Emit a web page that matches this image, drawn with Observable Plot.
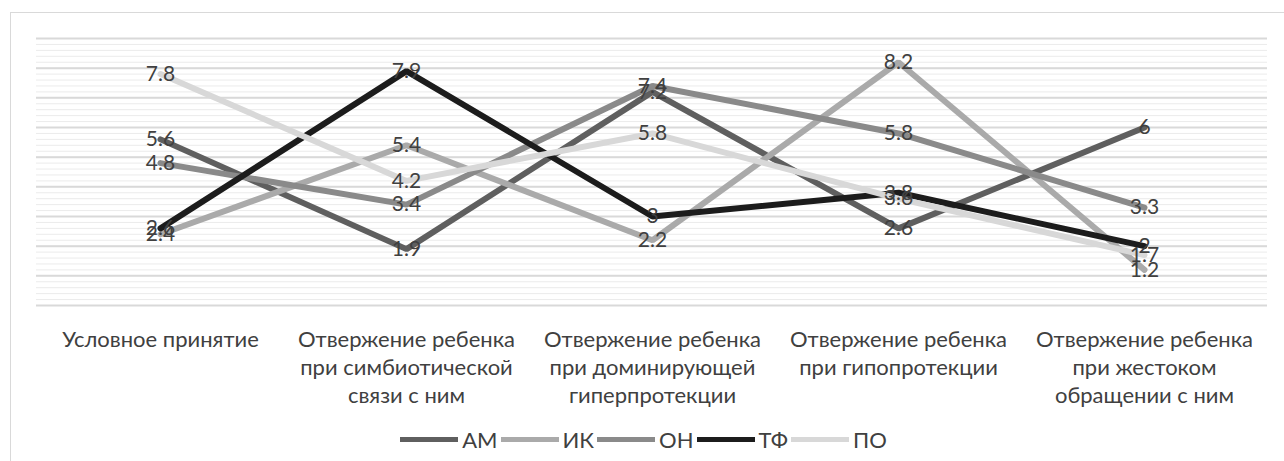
<!DOCTYPE html>
<html>
<head>
<meta charset="utf-8">
<script src="https://cdn.jsdelivr.net/npm/d3@7"></script>
<script src="https://cdn.jsdelivr.net/npm/@observablehq/plot@0.6"></script>
<style>
  html, body { margin: 0; padding: 0; background: #fff; }
  body { width: 1284px; height: 461px; position: relative; overflow: hidden; font-family: Lato, "Noto Sans", sans-serif; }
  #frame { position: absolute; left: 10px; top: 12px; width: 1300px; height: 470px; border: 1px solid #d9d9d9; box-sizing: border-box; }
  #chart { position: absolute; left: 0; top: 0; }
  #legend { position: absolute; left: 0; top: 426px; width: 1284px; height: 26px; display: flex; justify-content: center; align-items: center; font-size: 22px; color: #404040; }
  #legend .item { display: flex; align-items: center; }
  #legend .sw { display: inline-block; width: 58px; height: 5px; margin: 0 4px 0 3px; }
</style>
</head>
<body>
<div id="frame"></div>
<div id="chart"></div>
<div id="legend"></div>
<script>
// Categories of parental attitude (x axis)
const categories = [
  "Условное принятие",
  "Отвержение ребенка при симбиотической связи с ним",
  "Отвержение ребенка при доминирующей гиперпротекции",
  "Отвержение ребенка при гипопротекции",
  "Отвержение ребенка при жестоком обращении с ним"
];
const tickLabels = [
  "Условное принятие",
  "Отвержение ребенка\nпри симбиотической\nсвязи с ним",
  "Отвержение ребенка\nпри доминирующей\nгиперпротекции",
  "Отвержение ребенка\nпри гипопротекции",
  "Отвержение ребенка\nпри жестоком\nобращении с ним"
];

// Series
const seriesNames = ["АМ", "ИК", "ОН", "ТФ", "ПО"];
const valuesAM = [5.6, 1.9, 7.2, 2.6, 6];
const valuesIK = [2.4, 5.4, 2.2, 8.2, 1.2];
const valuesON = [4.8, 3.4, 7.4, 5.8, 3.3];
const valuesTF = [2.6, 7.9, 3, 3.8, 2];
const valuesPO = [7.8, 4.2, 5.8, 3.6, 1.7];
const seriesValues = [valuesAM, valuesIK, valuesON, valuesTF, valuesPO];

const seriesColors = ["#5f5f5f", "#aaaaaa", "#8a8a8a", "#1c1c1c", "#d8d8d8"];
const seriesWidths = [6, 6, 6, 6, 6];

// Long table built from the arrays
const rows = seriesNames.flatMap((s, i) =>
  categories.map((c, j) => ({series: s, category: c, value: seriesValues[i][j]}))
);

const minorTicks = d3.range(0, 9.001, 0.2).map(v => +v.toFixed(1));
const majorTicks = d3.range(0, 10, 1);

const chart = Plot.plot({
  width: 1284,
  height: 420,
  marginLeft: 36,
  marginRight: 17,
  marginTop: 38,
  marginBottom: 115,
  style: {fontFamily: "Lato, 'Noto Sans', sans-serif", background: "transparent"},
  x: {type: "point", domain: categories, padding: 0.5},
  y: {domain: [0, 9], axis: null},
  color: {domain: seriesNames, range: seriesColors},
  marks: [
    Plot.ruleY(minorTicks, {stroke: "#ebebeb", strokeWidth: 1}),
    Plot.ruleY(majorTicks, {stroke: "#d9d9d9", strokeWidth: 2}),
    Plot.axisX({
      tickSize: 0,
      tickPadding: 22,
      fontSize: 22,
      lineHeight: 1.27,
      fill: "#404040",
      tickFormat: (d) => tickLabels[categories.indexOf(d)],
      label: null
    }),
    ...seriesNames.map((s, i) =>
      Plot.line(rows.filter(r => r.series === s), {
        x: "category",
        y: "value",
        stroke: "series",
        strokeWidth: seriesWidths[i],
        strokeLinejoin: "miter"
      })
    ),
    Plot.text(rows, {
      x: "category",
      y: "value",
      text: d => String(d.value),
      fontSize: 21,
      fill: "#404040"
    })
  ]
});
document.getElementById("chart").appendChild(chart);

// Legend below the chart
const legend = document.getElementById("legend");
seriesNames.forEach((s, i) => {
  const item = document.createElement("span");
  item.className = "item";
  const sw = document.createElement("span");
  sw.className = "sw";
  sw.style.background = seriesColors[i];
  const label = document.createElement("span");
  label.textContent = s;
  item.appendChild(sw);
  item.appendChild(label);
  legend.appendChild(item);
});
</script>
</body>
</html>
